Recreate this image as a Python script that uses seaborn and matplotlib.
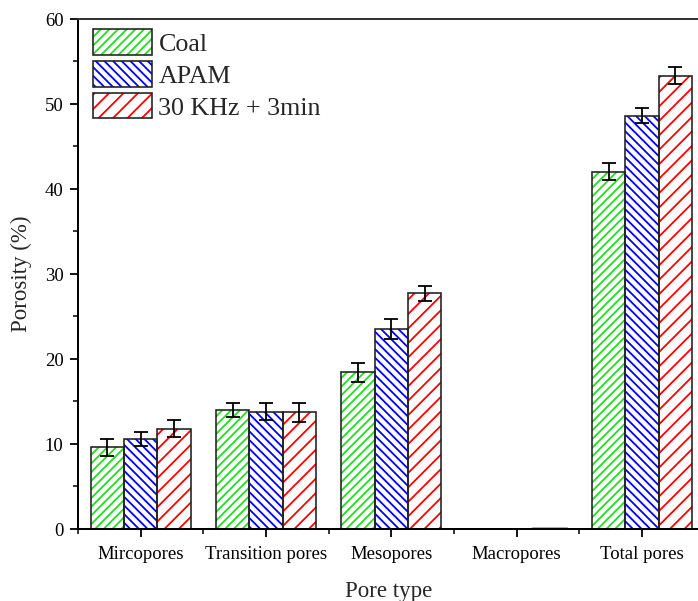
import numpy as np
import pandas as pd
import seaborn as sns
import matplotlib.pyplot as plt
from matplotlib.patches import Patch, Rectangle
from matplotlib.legend_handler import HandlerTuple
from matplotlib.ticker import MultipleLocator

pore_types = ['Mircopores', 'Transition pores', 'Mesopores', 'Macropores', 'Total pores']
samples = ['Coal', 'APAM', '30 KHz + 3min']

coal = [9.6, 14.0, 18.4, 0.0, 42.0]
apam = [10.6, 13.8, 23.5, 0.0, 48.6]
ultra = [11.8, 13.7, 27.7, 0.15, 53.3]

coal_err = [1.0, 0.85, 1.1, 0.0, 1.0]
apam_err = [0.8, 0.95, 1.15, 0.0, 0.85]
ultra_err = [1.0, 1.1, 0.9, 0.0, 1.0]

colors = ['#22dd22', '#0000ff', '#ff0000']
hatches = ['/////', '\\\\\\\\\\', '///']

df = pd.DataFrame({
    'pore': pore_types * 3,
    'sample': np.repeat(samples, len(pore_types)),
    'porosity': coal + apam + ultra,
})
errs = [coal_err, apam_err, ultra_err]

sns.set_style('ticks')
plt.rcParams['font.family'] = ['Liberation Serif', 'DejaVu Serif']
plt.rcParams['hatch.linewidth'] = 1.0

dpi = 130
fig = plt.figure(figsize=(698.4 / dpi, 601.4 / dpi), dpi=dpi)
ax = fig.add_axes([78 / 698, 1 - 529 / 601, 620 / 698, 510 / 601])

sns.barplot(data=df, x='pore', y='porosity', hue='sample', order=pore_types,
            hue_order=samples, palette=colors, errorbar=None, width=0.8,
            legend=False, ax=ax)

edge = '#222222'
for cont, col, h, err in zip(ax.containers, colors, hatches, errs):
    for bar, e in zip(cont, err):
        bar.set_facecolor('white')
        bar.set_edgecolor(col)
        bar.set_hatch(h)
        bar.set_linewidth(0)
        ax.add_patch(Rectangle(bar.get_xy(), bar.get_width(), bar.get_height(),
                               fill=False, ec=edge if bar.get_height() > 1 else '#999999',
                               lw=0.9, zorder=bar.get_zorder() + 0.1))
        if e > 0:
            ax.errorbar(bar.get_x() + bar.get_width() / 2, bar.get_height(), yerr=e,
                        fmt='none', ecolor='black', elinewidth=1.0, capsize=3.9,
                        capthick=1.0, zorder=4)

ax.set_xlim(-0.5, 4.45)
ax.set_ylim(0, 60)
ax.yaxis.set_major_locator(MultipleLocator(10))
ax.yaxis.set_minor_locator(MultipleLocator(5))
ax.set_xticks(np.arange(-0.5, 4, 1), minor=True)

for side in ['left', 'bottom', 'top']:
    ax.spines[side].set_linewidth(1.1)
    ax.spines[side].set_color('black')
ax.spines['top'].set_color('#333333')
ax.spines['right'].set_visible(False)

ax.tick_params(axis='both', which='major', direction='out', width=1.0,
               length=4.5, labelsize=10.4, pad=3.5, colors='black')
ax.tick_params(axis='x', which='major', pad=4.5)
ax.tick_params(axis='both', which='minor', direction='out', width=1.0, length=2.5)

ax.set_xlabel('Pore type', fontsize=12.7, labelpad=10)
ax.set_ylabel('Porosity (%)', fontsize=12.7, labelpad=7)

handles = [(Patch(facecolor='white', edgecolor=c, hatch=h, lw=0),
            Patch(fill=False, edgecolor=edge, lw=0.9))
           for c, h in zip(colors, hatches)]
ax.legend(handles, samples, handler_map={tuple: HandlerTuple(ndivide=1)},
          loc='upper left', bbox_to_anchor=(0.024, 0.98), frameon=False,
          fontsize=14.4, handlelength=2.27, handleheight=1.15, labelspacing=0.2,
          handletextpad=0.25, borderaxespad=0, borderpad=0)

fig.savefig('out.png', dpi=dpi)
